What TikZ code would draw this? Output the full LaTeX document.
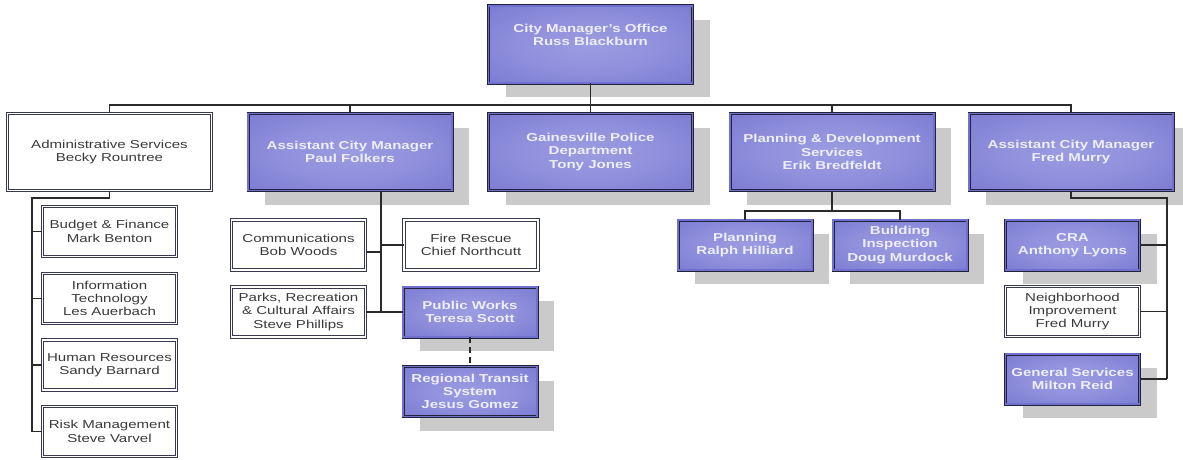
\documentclass[tikz,border=0pt]{standalone}
\usepackage{fontspec}
\newfontfamily\orgfont{Liberation Sans}[FakeStretch=1.31]
\newcommand\chartfont{\orgfont\fontsize{11.5}{13.3}\selectfont}
\usetikzlibrary{shadows}
\definecolor{boxedge}{RGB}{112,112,206}
\definecolor{boxmid}{RGB}{156,156,226}
\definecolor{boxline}{RGB}{34,34,58}
\definecolor{shadowgrey}{RGB}{202,202,202}
\definecolor{labelwhite}{RGB}{238,238,248}
\definecolor{plaintext}{RGB}{58,58,58}
\definecolor{wiretone}{RGB}{42,42,42}
\pgfdeclareradialshading{boxglow}{\pgfpoint{0bp}{0bp}}{color(0bp)=(boxmid); color(18bp)=(boxmid!70!boxedge); color(46bp)=(boxedge); color(70bp)=(boxedge)}

\begin{document}
\begin{tikzpicture}[x=1pt,y=-1pt,
	unit/.style={rectangle, draw=boxline, line width=0.8pt, double=boxedge, double distance=1.4pt, shade, shading=boxglow, text=labelwhite, font=\chartfont\bfseries, align=center, inner sep=0pt, drop shadow={shadow xshift=17pt, shadow yshift=-14pt, fill=shadowgrey, opacity=1}},
	plain/.style={rectangle, draw=boxline!90, line width=0.9pt, double=white, double distance=1.4pt, fill=white, text=plaintext, font=\chartfont, align=center, inner sep=0pt},
	big/.style={minimum width=204pt, minimum height=77pt},
	small/.style={minimum width=134pt, minimum height=50pt},
	wire/.style={draw=wiretone, line width=1.1pt}]
	\useasboundingbox (0,0) rectangle (1183,460);
	\node[unit,big,text depth=20pt] (cm) at (590.5,44.5) {City Manager’s Office\\Russ Blackburn};
	\node[plain,big] (admin) at (109.5,152) {Administrative Services\\Becky Rountree};
	\node[unit,big] (acmPF) at (350,152) {Assistant City Manager\\Paul Folkers};
	\node[unit,big] (gpd) at (590.5,152) {Gainesville Police\\Department\\Tony Jones};
	\node[unit,big] (pds) at (832,152) {Planning \& Development\\Services\\Erik Bredfeldt};
	\node[unit,big] (acmFM) at (1071,152) {Assistant City Manager\\Fred Murry};
	\node[plain,small] (budget) at (109.5,231.5) {Budget \& Finance\\Mark Benton};
	\node[plain,small] (infotech) at (109.5,298.5) {Information\\Technology\\Les Auerbach};
	\node[plain,small] (hr) at (109.5,365) {Human Resources\\Sandy Barnard};
	\node[plain,small] (risk) at (109.5,431.5) {Risk Management\\Steve Varvel};
	\node[plain,small] (comm) at (298.5,245) {Communications\\Bob Woods};
	\node[plain,small] (fire) at (471,245) {Fire Rescue\\Chief Northcutt};
	\node[plain,small] (parks) at (298.5,312) {Parks, Recreation\\\& Cultural Affairs\\Steve Phillips};
	\node[unit,small] (pw) at (470,312) {Public Works\\Teresa Scott};
	\node[unit,small] (rts) at (470,391.5) {Regional Transit\\System\\Jesus Gomez};
	\node[unit,small] (planning) at (745,245) {Planning\\Ralph Hilliard};
	\node[unit,small] (building) at (900,245) {Building\\Inspection\\Doug Murdock};
	\node[unit,small] (cra) at (1072.5,245) {CRA\\Anthony Lyons};
	\node[plain,small] (nip) at (1072.5,311.5) {Neighborhood\\Improvement\\Fred Murry};
	\node[unit,small] (gs) at (1072.5,379) {General Services\\Milton Reid};
	\coordinate (bus) at (0,105);
	\coordinate (adminspine) at (32,198);
	\coordinate (pfspine) at (381,312);
	\coordinate (pdsbar) at (0,211);
	\coordinate (fmspine) at (1167,198);
	\draw[wire] (cm.south) -- (cm.south |- bus);
	\draw[wire] (admin.north) |- (bus -| acmFM.north) -- (acmFM.north);
	\foreach \n in {acmPF,gpd,pds}
		\draw[wire] (\n.north) -- (\n.north |- bus);
	\draw[wire] (admin.south) |- (adminspine) -- (adminspine |- risk.west);
	\foreach \n in {budget,infotech,hr,risk}
		\draw[wire] (\n.west) -- (\n.west -| adminspine);
	\draw[wire] (acmPF.south -| pfspine) -- (pfspine);
	\draw[wire] ([yshift=-7pt]comm.east) -- ([yshift=-7pt]comm.east -| pfspine);
	\draw[wire] (fire.west) -- (fire.west -| pfspine);
	\draw[wire] (parks.east) -- (pw.west);
	\draw[wire, dash pattern=on 6pt off 4pt] (pw.south) -- (rts.north);
	\draw[wire] (pds.south) -- (pds.south |- pdsbar);
	\draw[wire] (planning.north) |- (pdsbar -| building.north) -- (building.north);
	\draw[wire] (acmFM.south) |- (fmspine) -- (fmspine |- gs.east);
	\foreach \n in {cra,nip,gs}
		\draw[wire] (\n.east) -- (\n.east -| fmspine);
\end{tikzpicture}
\end{document}
